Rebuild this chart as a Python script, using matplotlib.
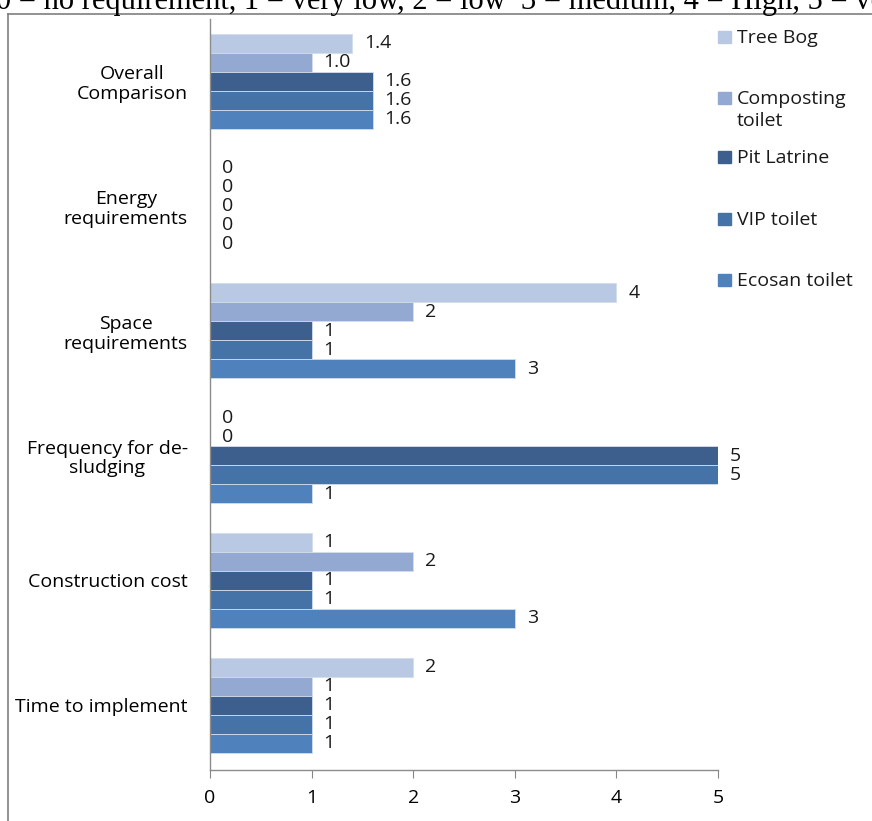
import matplotlib
matplotlib.use("Agg")
import matplotlib.pyplot as plt
from matplotlib.patches import Rectangle
from matplotlib.lines import Line2D

plt.rcParams['font.family'] = ['Open Sans', 'DejaVu Sans']

categories = ["Time to implement", "Construction cost", "Frequency for de-\nsludging",
              "Space\nrequirements", "Energy\nrequirements", "Overall\nComparison"]
label_decimals = [0, 0, 0, 0, 0, 1]

series_names = ["Tree Bog", "Composting\ntoilet", "Pit Latrine", "VIP toilet", "Ecosan toilet"]
tree_bog = [2, 1, 0, 4, 0, 1.4]
composting = [1, 2, 0, 2, 0, 1.0]
pit_latrine = [1, 1, 5, 1, 0, 1.6]
vip_toilet = [1, 1, 5, 1, 0, 1.6]
ecosan = [1, 3, 1, 3, 0, 1.6]
series_values = [tree_bog, composting, pit_latrine, vip_toilet, ecosan]
colors = ["#B9C9E3", "#93A9D2", "#3C5F8E", "#4572A7", "#4F81BD"]

x_ticks = [0, 1, 2, 3, 4, 5]

FS = 14
W, H = 872, 821
fig = plt.figure(figsize=(W / 100, H / 100), dpi=100)
ax = fig.add_axes([210 / W, (H - 770) / H, (718 - 210) / W, (770 - 19) / H])

bar_h = 0.152
n = len(series_names)
for k, (name, vals, col) in enumerate(zip(series_names, series_values, colors)):
    offset = (n - 1) / 2 * bar_h - k * bar_h
    ys = [i + offset for i in range(len(categories))]
    ax.barh(ys, vals, height=bar_h, color=col, edgecolor="#d3ddec", linewidth=0.6)
    for y, v, d in zip(ys, vals, label_decimals):
        ax.annotate(f"{v:.{d}f}", xy=(v, y), xytext=(12, 0), textcoords="offset pixels",
                    ha="left", va="center", fontsize=FS, color="#1a1a1a")

ax.set_xlim(0, 5)
ax.set_ylim(-0.52, 5.5)
ax.set_xticks(x_ticks)
ax.set_xticklabels([str(t) for t in x_ticks], fontsize=FS)
ax.set_yticks(range(len(categories)))
ax.set_yticklabels(categories, fontsize=FS, multialignment="center", linespacing=1.12)
ax.tick_params(axis="y", length=0, pad=16)
ax.tick_params(axis="x", length=6, color="#868686", pad=8)
for s in ["top", "right"]:
    ax.spines[s].set_visible(False)
for s in ["left", "bottom"]:
    ax.spines[s].set_color("#8c8c8c")
    ax.spines[s].set_linewidth(1.0)

# legend (manual)
leg_y = [37, 98, 157, 219, 280]
line_px = 22
for name, col, y in zip(series_names, colors, leg_y):
    fig.patches.append(Rectangle((718 / W, (H - y - 6) / H), 13 / W, 12 / H,
                                 transform=fig.transFigure, color=col))
    extra = (name.count("\n")) * line_px
    fig.text(737 / W, (H - y - 6 - extra) / H, name, ha="left", va="baseline", fontsize=FS,
             color="#1a1a1a", linespacing=1.28)

# chart frame
fig.add_artist(Line2D([8 / W, 8 / W], [0, (H - 14) / H], color="#7f7f7f", lw=1.2))
fig.add_artist(Line2D([8 / W, 1], [(H - 14) / H, (H - 14) / H], color="#7f7f7f", lw=1.2))

# clipped heading above the chart
fig.text(-4 / W, (H - 9) / H, "0 = no requirement, 1 = very low, 2 = low  3 = medium, 4 = High, 5 = very high",
         ha="left", va="baseline", fontsize=22, family="Liberation Serif")

fig.savefig("out.png", dpi=100)
